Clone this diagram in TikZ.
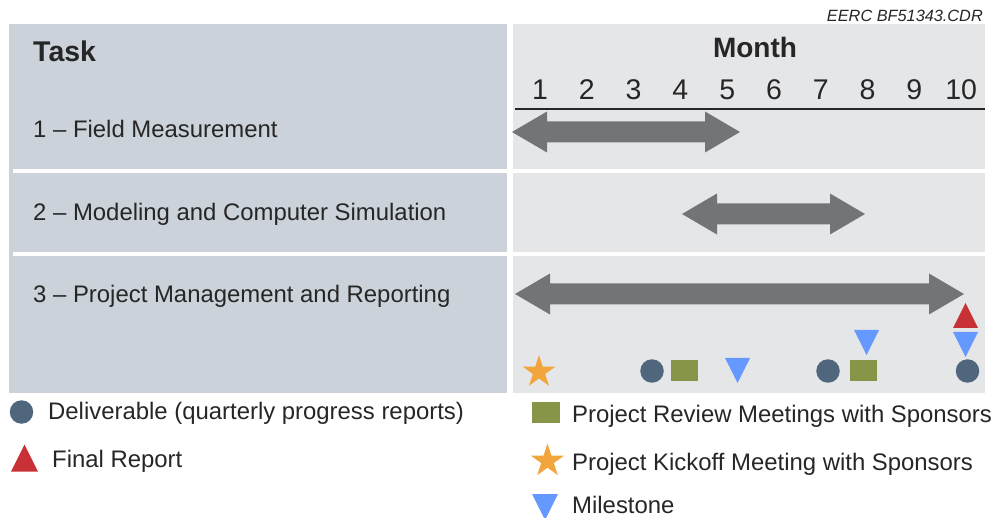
\documentclass[tikz,border=0pt]{standalone}
\usepackage{fontspec}
\setmainfont{Liberation Sans}
\usetikzlibrary{shapes.geometric}
\definecolor{leftpanel}{RGB}{203,210,217}
\definecolor{rightpanel}{RGB}{229,230,232}
\definecolor{arrowgray}{RGB}{115,116,120}
\definecolor{txt}{RGB}{38,38,38}
\definecolor{delblue}{RGB}{80,102,124}
\definecolor{revgreen}{RGB}{135,149,72}
\definecolor{kickorange}{RGB}{242,165,60}
\definecolor{msblue}{RGB}{102,153,255}
\definecolor{frred}{RGB}{200,50,55}
\newcommand\garrow[3]{%
  \fill[arrowgray] (#1,#3) -- ({#1+35},{#3-20.5}) -- ({#1+35},{#3-10.5}) -- ({#2-35},{#3-10.5}) -- ({#2-35},{#3-20.5}) -- (#2,#3) -- ({#2-35},{#3+20.5}) -- ({#2-35},{#3+10.5}) -- ({#1+35},{#3+10.5}) -- ({#1+35},{#3+20.5}) -- cycle;}
\tikzset{
  lbl/.style={anchor=base west, inner sep=0pt, text=txt, font=\fontsize{23.9}{28}\selectfont},
  legtext/.style={anchor=base west, inner sep=0pt, text=txt, font=\fontsize{23.9}{28}\selectfont},
  monthnum/.style={anchor=base, inner sep=0pt, text=txt, font=\fontsize{28.5}{32}\selectfont},
  deliv/.style={circle, fill=delblue, minimum size=23.5pt, inner sep=0pt},
  review/.style={rectangle, fill=revgreen, minimum width=27pt, minimum height=21pt, inner sep=0pt},
  kickoff/.style={star, star points=5, star point ratio=2.618, fill=kickorange, minimum size=34pt, inner sep=0pt},
  downtri/.pic={\fill[msblue] (-12.5,-12.5) -- (12.5,-12.5) -- (0,12.5) -- cycle;},
  uptri/.pic={\fill[frred] (-12.5,12.5) -- (12.5,12.5) -- (0,-12.5) -- cycle;},
  sepline/.style={white, line width=4pt}
}
\begin{document}
\begin{tikzpicture}[x=1pt, y=-1pt]
\useasboundingbox (0,0) rectangle (993,518);
% panels
\fill[leftpanel] (9,24) rectangle (507,393);
\fill[rightpanel] (513,24) rectangle (985,393);
\draw[sepline] (13,171) -- (985,171);
\draw[sepline] (13,254) -- (985,254);
% header
\node[anchor=base east, inner sep=0pt, text=txt, font=\fontsize{16.3}{19}\selectfont\itshape] (code) at (983,22) {EERC BF51343.CDR};
\node[anchor=base west, inner sep=0pt, text=txt, font=\fontsize{28.5}{32}\selectfont\bfseries] (task) at (33,62) {Task};
\node[anchor=base, inner sep=0pt, text=txt, font=\fontsize{28}{32}\selectfont\bfseries] (month) at (755,58) {Month};
\foreach \n in {1,...,10} {
  \node[monthnum] (m\n) at ({540+46.8*(\n-1)},100) {\n};
}
\draw[line width=2.5pt, txt] (515,109) -- (985,109);
% tasks
\node[lbl] (t1) at (33,138) {1 – Field Measurement};
\node[lbl] (t2) at (33,221) {2 – Modeling and Computer Simulation};
\node[lbl] (t3) at (33,303) {3 – Project Management and Reporting};
% bars
\garrow{512}{740}{132}
\garrow{682}{865}{214}
\garrow{515}{964}{294}
% events
\node[kickoff] (k1) at (539,372) {};
\node[deliv] (d1) at (652,371) {};
\node[review] (r1) at (684,370.5) {};
\pic (ms1) at (737.5,370.5) {downtri};
\node[deliv] (d2) at (828,371) {};
\node[review] (r2) at (863,370.5) {};
\pic (ms2) at (866.5,342.5) {downtri};
\pic (fr1) at (965.5,315.5) {uptri};
\pic (ms3) at (965.5,344.5) {downtri};
\node[deliv] (d3) at (967.5,371) {};
% legend
\node[deliv] (ld) at (21.5,412) {};
\node[legtext] (ldt) at (48,419) {Deliverable (quarterly progress reports)};
\pic[scale=1.08] (lf) at (24.5,458) {uptri};
\node[legtext] (lft) at (52,467) {Final Report};
\node[review, minimum width=28pt] (lr) at (546,412.5) {};
\node[legtext] (lrt) at (572,422) {Project Review Meetings with Sponsors};
\node[kickoff, minimum size=35pt] (lk) at (547.5,461) {};
\node[legtext] (lkt) at (572,470) {Project Kickoff Meeting with Sponsors};
\pic[scale=1.04] (lm) at (545,507) {downtri};
\node[legtext] (lmt) at (572,513) {Milestone};
\end{tikzpicture}
\end{document}
